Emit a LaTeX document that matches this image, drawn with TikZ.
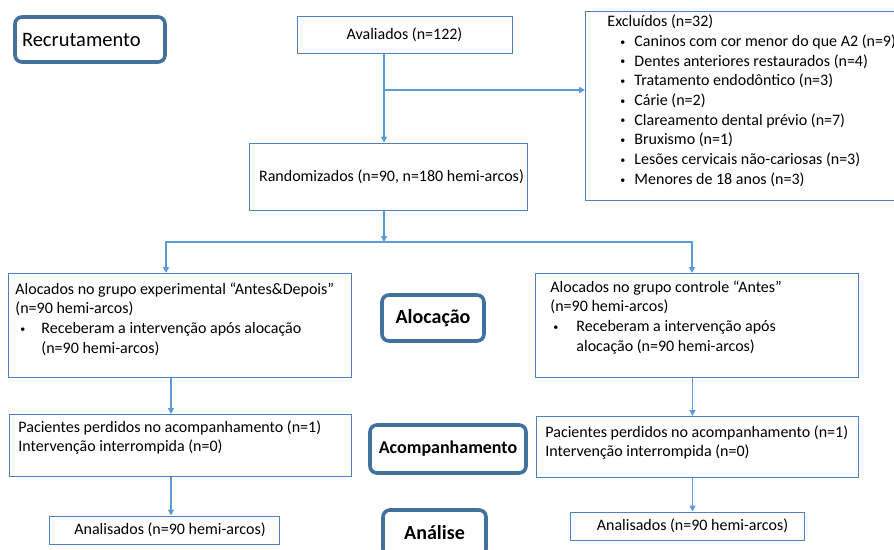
\documentclass[tikz,border=0pt]{standalone}
\usepackage{fontspec}
\setmainfont{Carlito}
\usetikzlibrary{arrows.meta,positioning}
\definecolor{boxblue}{RGB}{79,129,189}
\definecolor{stageblue}{RGB}{65,113,156}
\definecolor{arrowblue}{RGB}{91,155,213}
% bullet with left indent #1 and bullet box width #2
\newcommand{\bul}[2]{\hspace*{#1}\makebox[#2][l]{\raisebox{1.3pt}{\fontsize{10}{10}\selectfont\textbullet}}}
% lines set at the top of a box of width #1 and height #2
\newcommand{\toplines}[3]{\vbox to #2{\hbox to #1{\begin{tabular}[t]{@{}l@{}}#3\end{tabular}\hss}\vss}}

\begin{document}
\begin{tikzpicture}[x=1pt,y=-1pt,
  flow box/.style={rectangle,draw=boxblue,line width=0.9pt,inner sep=0pt,font=\fontsize{16}{19.7}\selectfont},
  list box/.style={flow box,anchor=north west},
  stage node/.style={rectangle,draw=stageblue,line width=3.6pt,rounded corners=7pt,fill=white,inner sep=0pt,align=center,font=\bfseries\fontsize{20}{24}\selectfont},
  flow/.style={draw=arrowblue,line width=1.6pt,-{Triangle[length=6pt,width=6pt]}}]

  \useasboundingbox (0,0) rectangle (894,549);
  \clip (0,0) rectangle (894,549);

  % stages
  \node[stage node,minimum width=150pt,minimum height=45pt,text width=136pt,align=left,font=\fontsize{20.5}{24}\selectfont] (recr) at (90,39.5) {Recrutamento};
  \node[stage node,minimum width=102pt,minimum height=46pt] (aloc) at (433,318) {Alocação};
  \node[stage node,minimum width=156pt,minimum height=48pt,font=\bfseries\fontsize{18}{22}\selectfont] (acomp) at (448,449) {Acompanhamento};
  \node[stage node,minimum width=103pt,minimum height=46pt] (anal) at (434.5,533) {Análise};

  % boxes
  \node[flow box,minimum width=215pt,minimum height=37pt] (aval) at (404.5,34.5) {Avaliados (n=122)};
  \node[list box,inner xsep=22pt,inner ysep=1.5pt] (excl) at (585,11) {\toplines{320pt}{186pt}{%
    Excluídos (n=32)\\
    \bul{13pt}{14pt}Caninos com cor menor do que A2 (n=9)\\
    \bul{13pt}{14pt}Dentes anteriores restaurados (n=4)\\
    \bul{13pt}{14pt}Tratamento endodôntico (n=3)\\
    \bul{13pt}{14pt}Cárie (n=2)\\
    \bul{13pt}{14pt}Clareamento dental prévio (n=7)\\
    \bul{13pt}{14pt}Bruxismo (n=1)\\
    \bul{13pt}{14pt}Lesões cervicais não-cariosas (n=3)\\
    \bul{13pt}{14pt}Menores de 18 anos (n=3)}};
  \node[flow box,minimum width=278pt,minimum height=67pt] (rand) at (388,176.5) {\hspace*{7pt}Randomizados (n=90, n=180 hemi-arcos)};

  \node[list box,inner xsep=7pt,inner ysep=7pt] (alocexp) at (8,273) {\toplines{329pt}{90pt}{%
    Alocados no grupo experimental “Antes\&Depois”\\
    (n=90 hemi-arcos)\\
    \bul{5pt}{21pt}Receberam a intervenção após alocação\\
    \hspace*{26pt}(n=90 hemi-arcos)}};
  \node[list box,inner xsep=15pt,inner ysep=5pt] (alocctl) at (535,273) {\toplines{293pt}{94pt}{%
    Alocados no grupo controle “Antes”\\
    (n=90 hemi-arcos)\\
    \bul{3pt}{23pt}Receberam a intervenção após\\
    \hspace*{26pt}alocação (n=90 hemi-arcos)}};

  \node[list box,inner xsep=9pt,inner ysep=4pt] (seguiexp) at (9,414) {\toplines{324pt}{54pt}{%
    Pacientes perdidos no acompanhamento (n=1)\\
    Intervenção interrompida (n=0)}};
  \node[list box,inner xsep=9pt,inner ysep=7pt] (seguictl) at (536,416) {\toplines{304pt}{47pt}{%
    Pacientes perdidos no acompanhamento (n=1)\\
    Intervenção interrompida (n=0)}};

  \node[flow box,minimum width=230pt,minimum height=28pt] (analexp) at (164,530) {\hspace*{12pt}Analisados (n=90 hemi-arcos)};
  \node[flow box,minimum width=234pt,minimum height=28pt] (analctl) at (687,526) {\hspace*{11pt}Analisados (n=90 hemi-arcos)};

  % connectors
  \coordinate (trunk) at (384,0);
  \coordinate (split) at (384,90);
  \coordinate (fork) at (384,242);
  \coordinate (legL) at (166,0);
  \coordinate (legR) at (692,0);
  \coordinate (colL) at (171,0);
  \coordinate (colR) at (692.5,0);

  \draw[flow] (aval.south -| trunk) -- (rand.north -| trunk);
  \draw[flow] (split) -- (split -| excl.west);
  \draw[flow] (rand.south -| trunk) -- (fork);
  \draw[flow] (fork) -| (alocexp.north -| legL);
  \draw[flow] (fork) -| (alocctl.north -| legR);
  \draw[flow] (alocexp.south -| colL) -- (seguiexp.north -| colL);
  \draw[flow] (seguiexp.south -| colL) -- (analexp.north -| colL);
  \draw[flow] (alocctl.south -| colR) -- (seguictl.north -| colR);
  \draw[flow] (seguictl.south -| colR) -- (analctl.north -| colR);
\end{tikzpicture}
\end{document}
